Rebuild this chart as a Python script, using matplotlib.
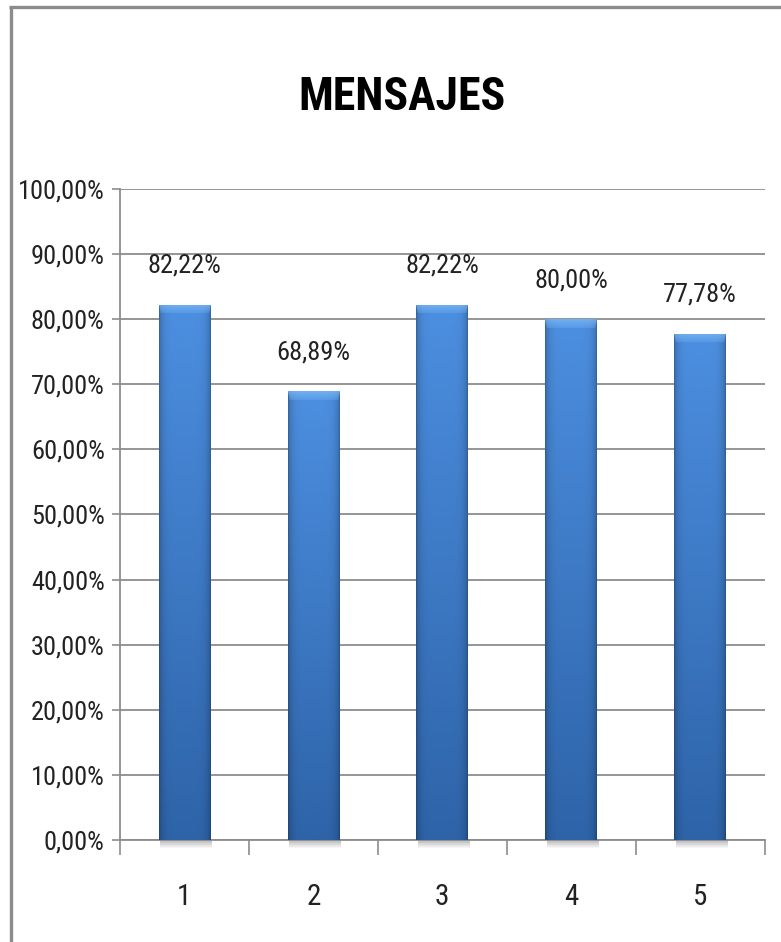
import numpy as np
import matplotlib.pyplot as plt
from matplotlib import font_manager
from matplotlib.lines import Line2D
from matplotlib.ticker import FixedLocator, FuncFormatter

categories = ['1', '2', '3', '4', '5']
values = [82.22, 68.89, 82.22, 80.00, 77.78]
value_labels = ['82,22%', '68,89%', '82,22%', '80,00%', '77,78%']
title = 'MENSAJES'

# pick a narrow face if one is installed
names = {f.name for f in font_manager.fontManager.ttflist}
narrow = [n for n in ['Liberation Sans Narrow', 'DejaVu Sans Condensed', 'Roboto Condensed',
                      'Open Sans Condensed'] if n in names]
plt.rcParams['font.family'] = narrow[:1] + ['DejaVu Sans']
plt.rcParams['font.stretch'] = 'condensed'
cond_path = font_manager.findfont(font_manager.FontProperties(family=plt.rcParams['font.family'],
                                                              stretch='condensed'))
is_narrow = bool(narrow) or ('Condensed' in cond_path) or ('Narrow' in cond_path)
scale = 1.0 if is_narrow else 0.8

GRAY = '#8c8c8c'


def bar_image(w_px, h_px):
    # vertical shading with darker sides and a soft light bevel along the top
    ny, nx = max(int(h_px), 2), max(int(w_px), 2)
    yy, xx = np.mgrid[0:ny, 0:nx]
    t = 1 - yy / (ny - 1)  # 1 at top, 0 at bottom
    top = np.array([0.30, 0.56, 0.88])
    bot = np.array([0.18, 0.39, 0.66])
    img = bot + (top - bot) * t[..., None]
    u = np.abs(xx / (nx - 1) - 0.5) * 2
    img *= (1 - 0.25 * u ** 6)[..., None]
    bevel = 9
    d_top = yy
    d_side = np.minimum(xx, nx - 1 - xx)
    light = (d_top < bevel) & (d_top <= d_side)
    k = (1 - d_top / bevel)[..., None]
    img = np.where(light[..., None], img + (np.array([0.50, 0.74, 0.97]) - img) * (0.2 + 0.5 * k), img)
    dark = (d_side < 3) & (d_side < d_top)
    img = np.where(dark[..., None], img * 0.88, img)
    return np.clip(img, 0, 1)


fig = plt.figure(figsize=(7.81, 9.42), dpi=100)

# chart frame (top and left edges)
fig.add_artist(Line2D([0.0135, 0.0135], [0, 0.9925], transform=fig.transFigure,
                      color=GRAY, lw=2.4, solid_capstyle='butt'))
fig.add_artist(Line2D([0.0120, 1.0], [0.9925, 0.9925], transform=fig.transFigure,
                      color=GRAY, lw=2.4, solid_capstyle='butt'))

fig.text(0.515, 0.897, title, ha='center', va='center', fontsize=33 * scale, fontweight='bold')

ax = fig.add_axes([0.1536, 0.1083, 0.8254, 0.6911])
x = np.arange(len(values))
bars = ax.bar(x, values, width=0.4, color='#3a78c8', zorder=3)

px_per_x = 0.8254 * 781
px_per_y = 0.6911 * 942 / 100
for b in bars:
    x0, w, h = b.get_x(), b.get_width(), b.get_height()
    im = ax.imshow(bar_image(w * px_per_x, h * px_per_y), extent=[x0, x0 + w, 0, h],
                   aspect='auto', zorder=3.1, interpolation='bilinear')
    im.set_clip_path(b)
    # soft shadow under the bar
    sh = np.zeros((10, 2, 4))
    sh[..., :3] = 0.45
    sh[..., 3] = np.linspace(0.55, 0.0, 10)[:, None]
    ax.imshow(sh, extent=[x0 + 0.01, x0 + w + 0.01, -1.4, 0], aspect='auto',
              zorder=2, clip_on=False, interpolation='bilinear')

for xi, v, lab in zip(x, values, value_labels):
    ax.text(xi, v + 6.0, lab, ha='center', va='center', fontsize=19 * scale, color='#222222')

ax.set_xlim(-0.5, len(values) - 0.5)
ax.set_ylim(0, 100)

ax.yaxis.set_major_locator(FixedLocator(np.arange(0, 101, 10)))
ax.yaxis.set_major_formatter(FuncFormatter(lambda v, p: f'{v:.2f}%'.replace('.', ',')))
ax.grid(axis='y', color=GRAY, lw=1.3, zorder=0)

ax.xaxis.set_major_locator(FixedLocator(np.arange(-0.5, len(values), 1.0)))
ax.xaxis.set_major_formatter(FuncFormatter(lambda v, p: ''))
ax.xaxis.set_minor_locator(FixedLocator(x))
ax.set_xticklabels(categories, minor=True)

ax.tick_params(axis='y', direction='out', length=6, width=1.2, color=GRAY,
               labelsize=19 * scale, pad=5, labelcolor='#222222')
ax.tick_params(axis='x', which='major', direction='out', length=11, width=1.2, color=GRAY)
ax.tick_params(axis='x', which='minor', length=0, labelsize=21, pad=31, labelcolor='#222222')

for s in ['top', 'right']:
    ax.spines[s].set_visible(False)
for s in ['left', 'bottom']:
    ax.spines[s].set_color(GRAY)
    ax.spines[s].set_linewidth(1.3)

fig.savefig('out.png', dpi=100)
